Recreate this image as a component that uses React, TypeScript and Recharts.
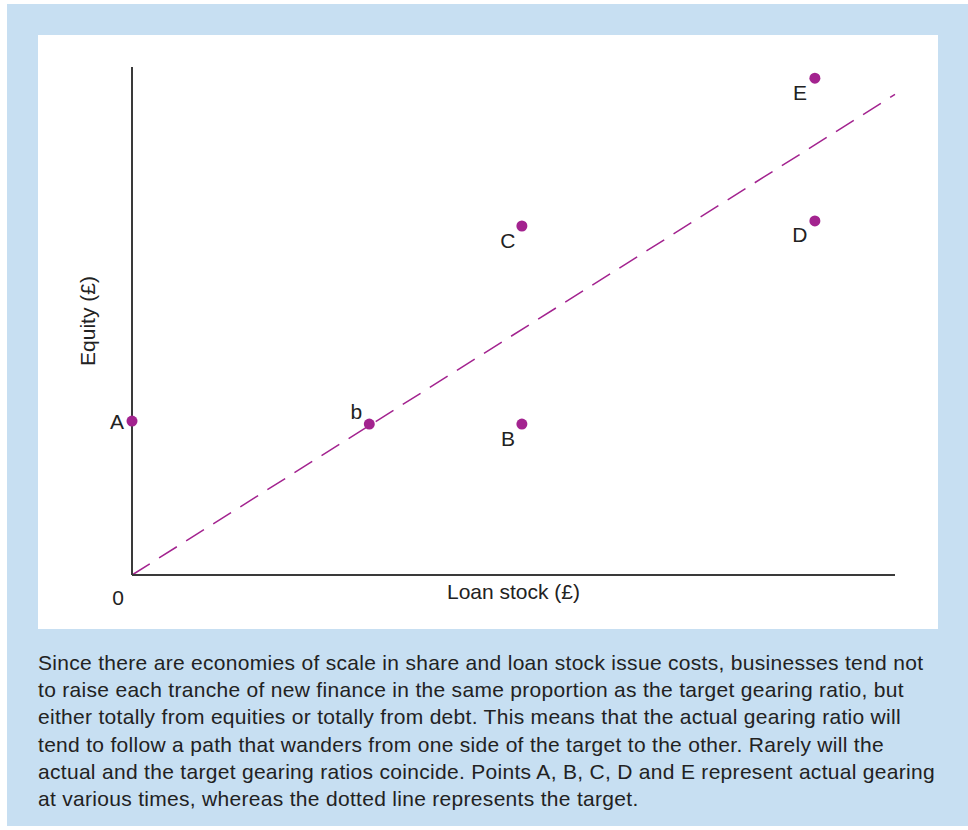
import React from "react";
import {
  ScatterChart,
  Scatter,
  XAxis,
  YAxis,
  ReferenceLine,
  Label,
} from "recharts";

// actual gearing positions (loan stock, equity) on a 0-100 scale
const pointNames = ["A", "b", "B", "C", "D", "E"];
const loanStock = [0, 31.1, 51.1, 51.1, 89.5, 89.5];
const equity = [30.3, 29.7, 29.7, 68.7, 69.7, 97.8];

// target gearing line endpoints
const targetLoan = [0, 100];
const targetEquity = [0, 94.6];

const captionLines = [
  "Since there are economies of scale in share and loan stock issue costs, businesses tend not",
  "to raise each tranche of new finance in the same proportion as the target gearing ratio, but",
  "either totally from equities or totally from debt. This means that the actual gearing ratio will",
  "tend to follow a path that wanders from one side of the target to the other. Rarely will the",
  "actual and the target gearing ratios coincide. Points A, B, C, D and E represent actual gearing",
  "at various times, whereas the dotted line represents the target.",
];

const PURPLE = "#a3238f";
const AXIS = "#3a3a3a";
const FONT = "'Liberation Sans', Arial, Helvetica, sans-serif";
const FS = 21;

// where each point's letter sits relative to the dot
const labelOffset: Record<string, [number, number]> = {
  A: [-15, 0],
  b: [-13, -13],
  B: [-14, 14],
  C: [-14, 14],
  D: [-15, 14],
  E: [-15, 14],
};

const points = pointNames.map((name, i) => ({
  name,
  loan: loanStock[i],
  equity: equity[i],
}));

function PointShape(props: any) {
  const { cx, cy, payload } = props;
  const [dx, dy] = labelOffset[payload.name] ?? [-14, 14];
  return (
    <g>
      <circle cx={cx} cy={cy} r={5.5} fill={PURPLE} />
      <text
        x={cx + dx}
        y={cy + dy}
        textAnchor="middle"
        dominantBaseline="central"
        fontSize={FS}
        fontFamily={FONT}
        fill="#222"
      >
        {payload.name}
      </text>
    </g>
  );
}

function OriginTick(props: any) {
  const { x, y } = props;
  return (
    <text
      x={x - 14}
      y={y + 14}
      textAnchor="middle"
      dominantBaseline="central"
      fontSize={FS}
      fontFamily={FONT}
      fill="#222"
    >
      0
    </text>
  );
}

export default function App() {
  return (
    <div
      style={{
        position: "absolute",
        left: 7,
        top: 4,
        width: 961,
        height: 822,
        background: "#c7dff2",
        fontFamily: FONT,
      }}
    >
      <div
        style={{
          position: "absolute",
          left: 31,
          top: 31,
          width: 900,
          height: 594,
          background: "#ffffff",
        }}
      >
        <ScatterChart
          width={900}
          height={594}
          margin={{ top: 32, right: 43, left: 0, bottom: 0 }}
        >
          <XAxis
            type="number"
            dataKey="loan"
            domain={[0, 100]}
            ticks={[0]}
            height={54}
            tickLine={false}
            tick={<OriginTick />}
            axisLine={{ stroke: AXIS, strokeWidth: 2 }}
          >
            <Label
              value="Loan stock (£)"
              position="center"
              dy={-10}
              style={{ fontSize: FS, fontFamily: FONT, fill: "#222" }}
            />
          </XAxis>
          <YAxis
            type="number"
            dataKey="equity"
            domain={[0, 100]}
            width={94}
            tick={false}
            tickLine={false}
            axisLine={{ stroke: AXIS, strokeWidth: 2 }}
          >
            <Label
              value="Equity (£)"
              position="center"
              angle={-90}
              dx={3}
              style={{ fontSize: FS, fontFamily: FONT, fill: "#222" }}
            />
          </YAxis>
          <ReferenceLine
            segment={[
              { x: targetLoan[0], y: targetEquity[0] },
              { x: targetLoan[1], y: targetEquity[1] },
            ]}
            stroke={PURPLE}
            strokeWidth={1.5}
            strokeDasharray="21 11"
            ifOverflow="visible"
          />
          <Scatter
            data={points}
            shape={<PointShape />}
            isAnimationActive={false}
          />
        </ScatterChart>
      </div>
      <div
        style={{
          position: "absolute",
          left: 31,
          top: 645,
          fontSize: FS,
          letterSpacing: "0.3px",
          lineHeight: "27.2px",
          color: "#222",
          whiteSpace: "nowrap",
        }}
      >
        {captionLines.map((line, i) => (
          <div key={i}>{line}</div>
        ))}
      </div>
    </div>
  );
}
